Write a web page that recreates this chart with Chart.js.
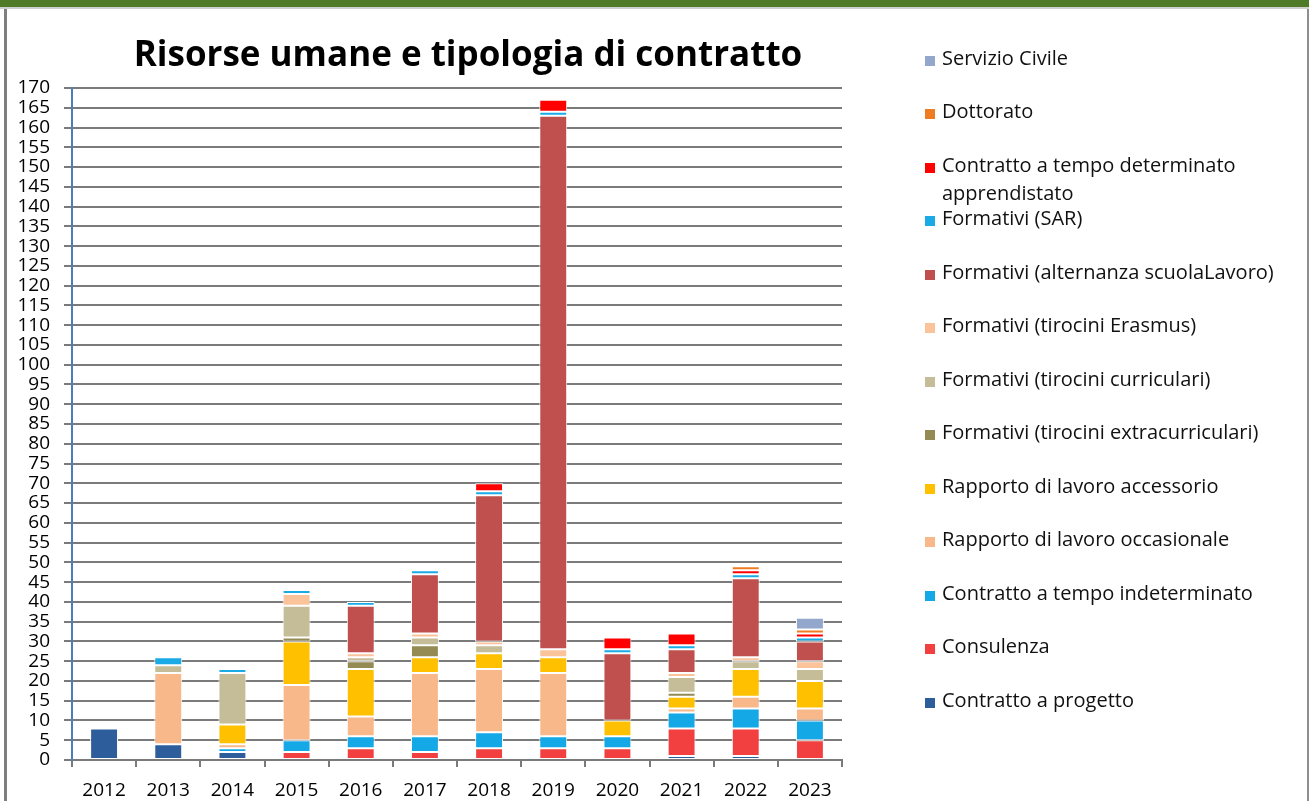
<!DOCTYPE html>
<html>

<head>
    <meta charset="UTF-8">
    <title>Risorse umane e tipologia di contratto</title>
    <script src="https://cdn.jsdelivr.net/npm/chart.js"></script>
    <style>
        body {
            margin: 0;
            background: #fff;
            width: 1309px;
            height: 801px;
            overflow: hidden;
            position: relative;
            font-family: 'Open Sans', sans-serif;
        }

        #topbar {
            position: absolute;
            left: 0;
            top: 0;
            width: 1309px;
            height: 7px;
            background: #4f7a28;
            border-bottom: 2px solid #cfcfcf;
        }

        #frame {
            position: absolute;
            left: 4px;
            top: 9px;
            width: 1300px;
            height: 792px;
            border-left: 3px solid #7f7f7f;
            border-right: 2px solid #8f8f8f;
        }

        #chartBox {
            position: absolute;
            left: 0;
            top: 0;
            width: 870px;
            height: 801px;
        }

        #title {
            position: absolute;
            left: 0;
            top: 35px;
            width: 936px;
            text-align: center;
            font: 700 35px/35px 'Open Sans', sans-serif;
            color: #000;
        }

        #legend {
            position: absolute;
            left: 924px;
            top: 44px;
        }

        .item {
            position: relative;
            height: 53.47px;
            padding-left: 18px;
            width: 350px;
            font-size: 20px;
            line-height: 28px;
            color: #111;
        }

        .item span {
            position: absolute;
            left: 1px;
            top: 12px;
            width: 10px;
            height: 10px;
        }
    </style>
</head>

<body>
    <div id="topbar"></div>
    <div id="frame"></div>
    <div id="chartBox"><canvas id="myChart"></canvas></div>
    <div id="title">Risorse umane e tipologia di contratto</div>
    <div id="legend"></div>

    <script>
        const years = ['2012', '2013', '2014', '2015', '2016', '2017', '2018', '2019', '2020', '2021', '2022', '2023'];

        // stacked bottom -> top
        const progetto = [8, 4, 2, 0, 0, 0, 0, 0, 0, 1, 1, 0];
        const consulenza = [0, 0, 0, 2, 3, 2, 3, 3, 3, 7, 7, 5];
        const indeterminato = [0, 0, 1, 3, 3, 4, 4, 3, 3, 4, 5, 5];
        const occasionale = [0, 18, 1, 14, 5, 16, 16, 16, 0, 1, 3, 3];
        const accessorio = [0, 0, 5, 11, 12, 4, 4, 4, 4, 3, 7, 7];
        const extracurriculari = [0, 0, 0, 1, 2, 3, 0, 0, 0, 1, 0, 0];
        const curriculari = [0, 2, 13, 8, 1, 2, 2, 0, 0, 4, 2, 3];
        const erasmus = [0, 0, 0, 3, 1, 1, 1, 2, 0, 1, 1, 2];
        const alternanza = [0, 0, 0, 0, 12, 15, 37, 135, 17, 6, 20, 5];
        const sar = [0, 2, 1, 1, 1, 1, 1, 1, 1, 1, 1, 1];
        const apprendistato = [0, 0, 0, 0, 0, 0, 2, 3, 3, 3, 1, 1];
        const dottorato = [0, 0, 0, 0, 0, 0, 0, 0, 0, 0, 1, 1];
        const servizioCivile = [0, 0, 0, 0, 0, 0, 0, 0, 0, 0, 0, 3];

        const yMax = 170;
        const yStep = 5;

        function ds(label, data, color) {
            return {
                label: label,
                data: data,
                backgroundColor: color,
                borderColor: '#ffffff',
                borderWidth: 1,
                borderSkipped: false,
                barPercentage: 0.87,
                categoryPercentage: 0.5
            };
        }

        Chart.defaults.font.family = "'Open Sans', sans-serif";
        Chart.defaults.color = '#000';

        const ctx = document.getElementById('myChart').getContext('2d');
        const myChart = new Chart(ctx, {
            type: 'bar',
            data: {
                labels: years,
                datasets: [
                    ds('Contratto a progetto', progetto, '#2d5d9b'),
                    ds('Consulenza', consulenza, '#f23f3f'),
                    ds('Contratto a tempo indeterminato', indeterminato, '#15a8e6'),
                    ds('Rapporto di lavoro occasionale', occasionale, '#f9b88a'),
                    ds('Rapporto di lavoro accessorio', accessorio, '#ffc000'),
                    ds('Formativi (tirocini extracurriculari)', extracurriculari, '#948a54'),
                    ds('Formativi (tirocini curriculari)', curriculari, '#c4bd97'),
                    ds('Formativi (tirocini Erasmus)', erasmus, '#fac39a'),
                    ds('Formativi (alternanza scuolaLavoro)', alternanza, '#c0504d'),
                    ds('Formativi (SAR)', sar, '#1aaae6'),
                    ds('Contratto a tempo determinato apprendistato', apprendistato, '#ff0000'),
                    ds('Dottorato', dottorato, '#ee7c22'),
                    ds('Servizio Civile', servizioCivile, '#93a6cc')
                ]
            },
            options: {
                responsive: true,
                maintainAspectRatio: false,
                animation: false,
                layout: {
                    padding: { top: 88, right: 28, bottom: 0, left: 0 }
                },
                plugins: {
                    legend: { display: false },
                    title: { display: false },
                    tooltip: { enabled: false }
                },
                scales: {
                    x: {
                        stacked: true,
                        grid: {
                            offset: true,
                            drawOnChartArea: false,
                            color: '#7a7a7a',
                            lineWidth: 2,
                            tickLength: 7
                        },
                        border: { color: '#7a7a7a', width: 2 },
                        ticks: {
                            font: { size: 19 },
                            padding: 12,
                            maxRotation: 0
                        },
                        afterFit: function (scale) {
                            scale.height = 41;
                        }
                    },
                    y: {
                        stacked: true,
                        min: 0,
                        max: yMax,
                        grid: {
                            color: '#7a7a7a',
                            lineWidth: 2,
                            tickLength: 8
                        },
                        border: { color: '#4a7ebb', width: 2 },
                        ticks: {
                            stepSize: yStep,
                            autoSkip: false,
                            font: { size: 19 },
                            padding: 14
                        },
                        afterFit: function (scale) {
                            scale.width = 72;
                        }
                    }
                }
            }
        });

        // legend in reverse order, as in the original
        const legendDiv = document.getElementById('legend');
        myChart.data.datasets.slice().reverse().forEach(function (d) {
            const item = document.createElement('div');
            item.className = 'item';
            const box = document.createElement('span');
            box.style.background = d.backgroundColor;
            item.appendChild(box);
            item.appendChild(document.createTextNode(d.label));
            legendDiv.appendChild(item);
        });
    </script>
</body>

</html>
